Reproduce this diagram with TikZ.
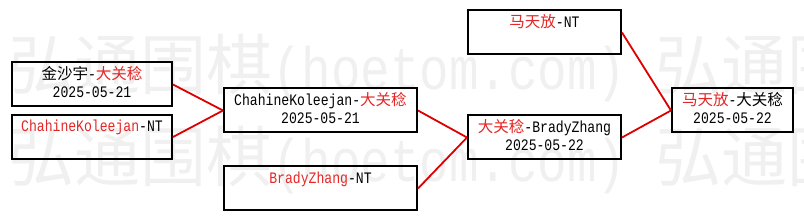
\documentclass[tikz,border=0pt]{standalone}
\usepackage{fontspec}
\setmainfont{Liberation Mono}[FakeStretch=0.82]
\newfontfamily\cjk[Scale=0.97]{Noto Sans CJK SC}
\usepackage{tikz}

\definecolor{namered}{RGB}{228,38,38}
\definecolor{linkred}{RGB}{222,0,0}
\newcommand{\rd}[1]{\textcolor{namered}{#1}}
\newcommand{\zh}[1]{{\cjk #1}}
\newcommand{\wmzh}{{\fontsize{68}{68}\selectfont\cjk 弘通围棋}}

\begin{document}
\begin{tikzpicture}[x=1pt, y=-1pt,
  every node/.style={font=\fontsize{16}{18}\selectfont},
  match/.style={draw, line width=2pt, inner sep=0pt, minimum height=44pt, align=center},
  link/.style={draw=linkred, line width=1.8pt},
  wmark/.style={anchor=base west, inner sep=0pt, text=black!6, font=\fontsize{60}{60}\selectfont}]
  \useasboundingbox (0,0) rectangle (804,221);
  % watermark
  \node[wmark] (wm1) at (8,90) {\wmzh(hoetom.com) \wmzh};
  \node[wmark] (wm2) at (8,182) {\wmzh(hoetom.com) \wmzh};
  % round 1
  \node[match, minimum width=160pt] (r1a) at (92,84.5) {\zh{金沙宇}-\rd{\zh{大关稔}}\strut\\2025-05-21\strut};
  \node[match, minimum width=160pt] (r1b) at (92,137) {\rd{ChahineKoleejan}-NT\strut\\\strut};
  % round 2
  \node[match, minimum width=193pt] (r2a) at (320.5,110.5) {ChahineKoleejan-\rd{\zh{大关稔}}\strut\\2025-05-21\strut};
  \node[match, minimum width=193pt] (r2b) at (320.5,188.5) {\rd{BradyZhang}-NT\strut\\\strut};
  % semifinal
  \node[match, minimum width=153pt] (r3a) at (544.5,32.5) {\rd{\zh{马天放}}-NT\strut\\\strut};
  \node[match, minimum width=153pt] (r3b) at (544.5,137.5) {\rd{\zh{大关稔}}-BradyZhang\strut\\2025-05-22\strut};
  % final
  \node[match, minimum width=121pt] (fin) at (732.5,110.5) {\rd{\zh{马天放}}-\zh{大关稔}\strut\\2025-05-22\strut};
  % links
  \draw[link] (r1a.east) -- (r2a.west);
  \draw[link] (r1b.east) -- (r2a.west);
  \draw[link] (r2a.east) -- (r3b.west);
  \draw[link] (r2b.east) -- (r3b.west);
  \draw[link] (r3a.east) -- (fin.west);
  \draw[link] (r3b.east) -- (fin.west);
\end{tikzpicture}
\end{document}
